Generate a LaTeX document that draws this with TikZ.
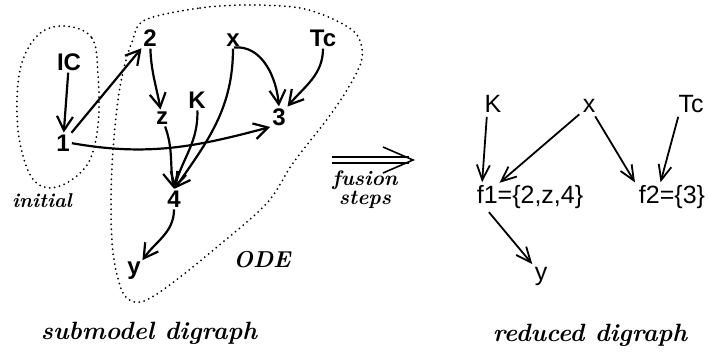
\documentclass[tikz,border=0pt]{standalone}
\usepackage{fontspec}
\setsansfont{Liberation Sans}
\usetikzlibrary{arrows.meta}
\tikzset{
  lab/.style={font=\sffamily\bfseries\fontsize{24}{26}\selectfont, inner sep=1pt},
  rlab/.style={font=\sffamily\fontsize{25}{27}\selectfont, inner sep=1pt},
  captext/.style={font=\itshape\bfseries\fontsize{25}{27}\selectfont, inner sep=0pt},
  arr/.style={line width=2.2pt, -{Straight Barb[length=14pt,width=16pt]}, shorten >=1pt, shorten <=1pt},
  rarr/.style={line width=1.8pt, -{Straight Barb[length=15pt,width=13pt]}, shorten >=2pt, shorten <=3pt},
  region/.style={line width=2pt, line cap=round, dash pattern=on 0pt off 5pt}
}
\begin{document}
\begin{tikzpicture}[x=1pt,y=1pt]
\useasboundingbox (0,0) rectangle (708,-354);
% dotted regions
\draw[region] plot[smooth cycle, tension=0.6] coordinates {(65,-26) (92,-38) (98,-75) (98,-125) (87,-165) (57,-187) (32,-178) (18,-130) (20,-70) (38,-35)};
\draw[region] plot[smooth cycle, tension=0.55] coordinates {(145,-20) (200,-8) (250,-5) (300,-8) (335,-20) (357,-35) (362,-58) (350,-85) (328,-118) (293,-163) (267,-203) (217,-247) (167,-287) (140,-302) (123,-293) (113,-253) (111,-200) (113,-150) (118,-100) (124,-68) (132,-42)};
% left nodes
\node[lab] (IC) at (69,-62) {IC};
\node[lab] (n1) at (63,-143) {1};
\node[lab] (n2) at (150,-38) {2};
\node[lab] (x) at (233,-40) {x};
\node[lab] (Tc) at (323,-38) {Tc};
\node[lab] (K) at (197,-100) {K};
\node[lab] (z) at (162,-118) {z};
\node[lab] (n3) at (279,-117) {3};
\node[lab] (n4) at (174,-199) {4};
\node[lab] (y) at (134,-271) {y};
% left edges
\draw[arr] (IC) -- (n1);
\draw[arr] (n1) -- (n2);
\draw[arr] (n2) to[out=-88,in=100] (z);
\draw[arr] (n1.east) to[out=-10,in=195] (n3.south west);
\draw[arr] (x.south) to[out=5,in=95] (n3.north);
\draw[arr] (Tc.south) to[out=-90,in=50] (n3.north east);
\draw[arr] (x.south) to[out=-90,in=55] (n4.north);
\draw[arr] (K) to[out=-88,in=75] (n4.north);
\draw[arr] (z) to[out=-70,in=100] (n4.north);
\draw[arr] (n4) to[out=-90,in=55] (y.north east);
% labels
\node[captext, font=\itshape\bfseries\fontsize{20}{22}\selectfont] (init) at (42,-201) {initial};
\node[captext, font=\itshape\bfseries\fontsize{23}{25}\selectfont] (ode) at (262,-260) {ODE};
\node[captext] (sub) at (149,-333) {submodel digraph};
\node[captext] (red) at (590,-335) {reduced digraph};
\node[captext, align=center, font=\itshape\bfseries\fontsize{21}{19}\selectfont] (fus) at (365,-190) {fusion\\steps};
% fusion arrow
\coordinate (fa) at (332,-160);
\coordinate (fb) at (413,-160);
\draw[line width=1.6pt] ([yshift=3pt]fa) -- ([yshift=3pt,xshift=-4pt]fb);
\draw[line width=1.6pt] ([yshift=-3pt]fa) -- ([yshift=-3pt,xshift=-4pt]fb);
\draw[line width=1.6pt] ([xshift=-30pt,yshift=13pt]fb) -- (fb) -- ([xshift=-30pt,yshift=-13pt]fb);
% right nodes
\node[rlab] (Kr) at (493,-104) {K};
\node[rlab] (xr) at (589,-106) {x};
\node[rlab] (Tcr) at (691,-104) {Tc};
\node[rlab] (f1) at (530,-197) {f1=\{2,z,4\}};
\node[rlab] (f2) at (672,-197) {f2=\{3\}};
\node[rlab] (yr) at (541,-276) {y};
% right edges
\draw[rarr] ([xshift=-6pt]Kr.south) -- ([xshift=-48pt]f1.north);
\draw[rarr] (xr) -- ([xshift=-32pt]f1.north);
\draw[rarr] (xr) -- ([xshift=-36pt]f2.north);
\draw[rarr] ([xshift=-12pt]Tcr.south) -- ([xshift=-12pt]f2.north);
\draw[rarr] ([xshift=-43pt]f1.south) -- (yr.north west);
\end{tikzpicture}
\end{document}
